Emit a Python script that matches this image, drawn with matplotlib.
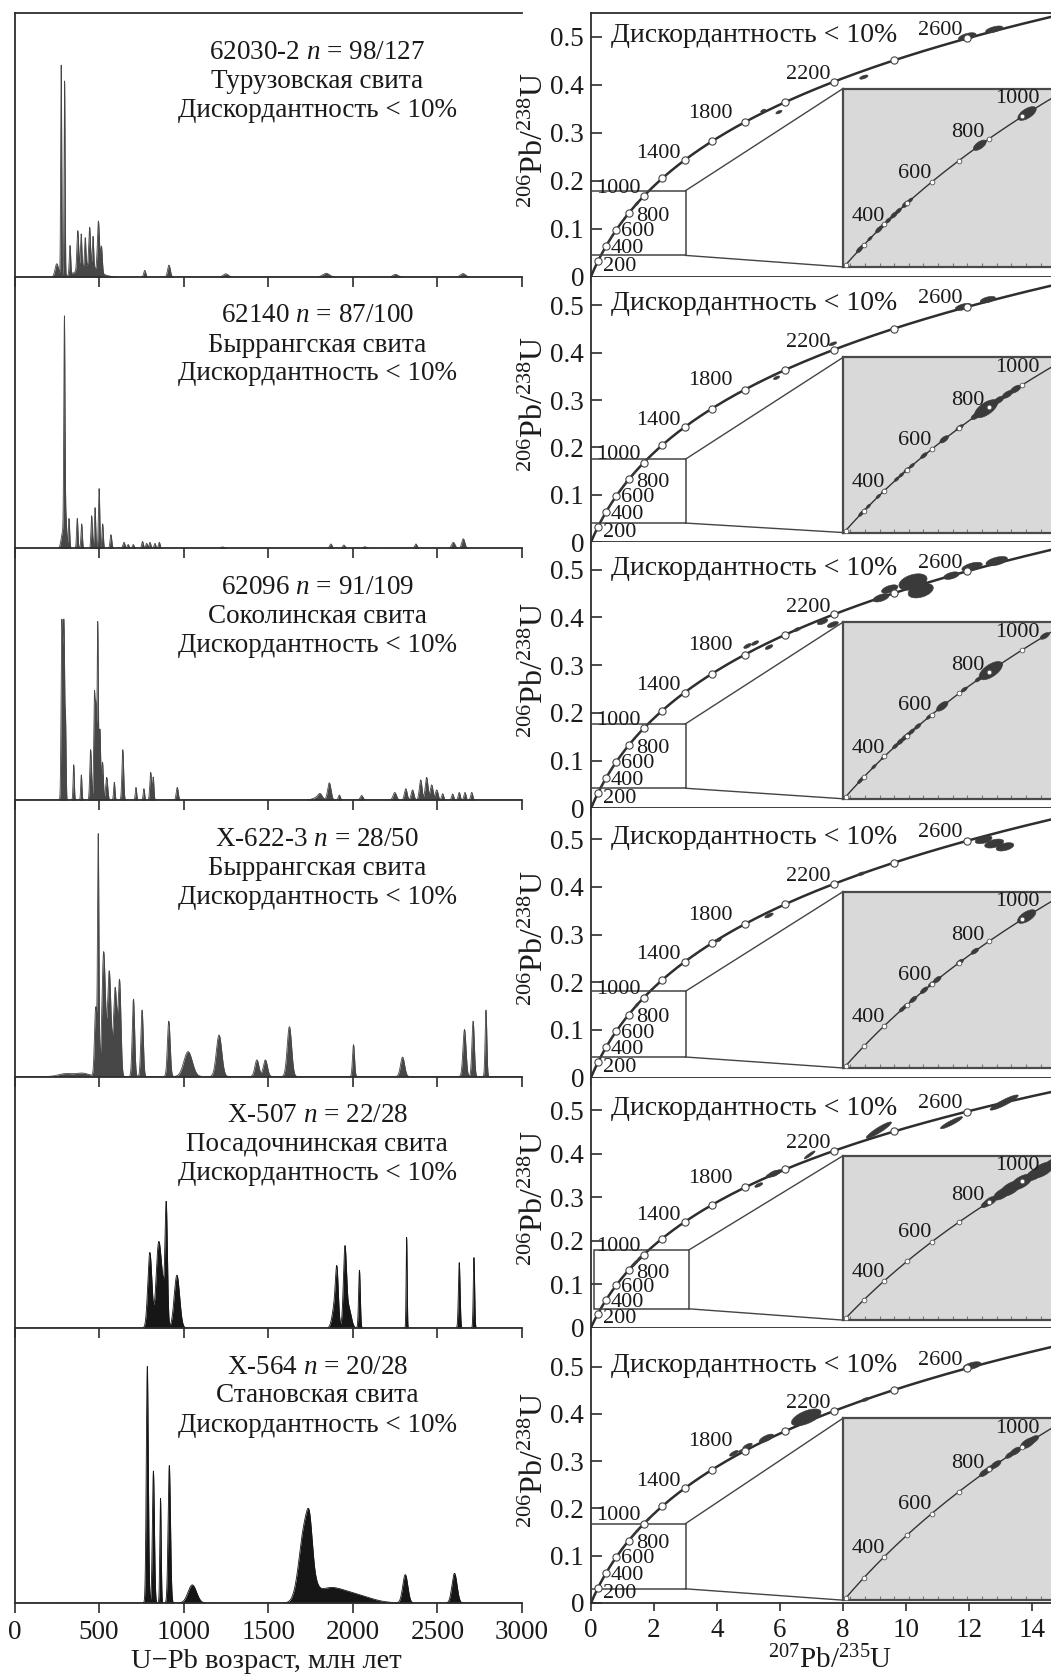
import numpy as np
import matplotlib
matplotlib.use('Agg')
import matplotlib.pyplot as plt
from matplotlib.patches import Polygon, Rectangle

plt.rcParams['font.family'] = ['Liberation Serif', 'DejaVu Serif']
plt.rcParams['mathtext.fontset'] = 'custom'
plt.rcParams['mathtext.rm'] = 'Liberation Serif'
plt.rcParams['mathtext.it'] = 'Liberation Serif:italic'
plt.rcParams['mathtext.bf'] = 'Liberation Serif:bold'

# ------------------------------------------------------------------ data
samples = ['62030-2', '62140', '62096', 'Х-622-3', 'Х-507', 'Х-564']
n_counts = ['98/127', '87/100', '91/109', '28/50', '22/28', '20/28']
suites = ['Турузовская свита', 'Быррангская свита', 'Соколинская свита',
          'Быррангская свита', 'Посадочнинская свита', 'Становская свита']
disc_text = 'Дискордантность < 10%'
age_ticks = [0, 500, 1000, 1500, 2000, 2500, 3000]
rx_ticks = [0, 2, 4, 6, 8, 10, 12, 14]
ry_ticks = [0, 0.1, 0.2, 0.3, 0.4, 0.5]
ry_ticklabels = ['0', '0.1', '0.2', '0.3', '0.4', '0.5']
main_tick_ages = [200, 400, 600, 800, 1000, 1200, 1400, 1600, 1800, 2000, 2200, 2400, 2600, 2800]
main_label_ages = [200, 400, 600, 800, 1000, 1400, 1800, 2200, 2600]
inset_tick_ages = [200, 300, 400, 500, 600, 700, 800, 900, 1000]
inset_label_ages = [400, 600, 800, 1000]

# probability-density peaks (age, Ma; relative height; width, Ma)
pdp1_age = [250, 276, 296, 328, 374, 394, 418, 444, 464, 496, 514, 430, 770, 913, 1249, 1842, 2252, 2651]
pdp1_amp = [0.05, 0.80, 0.74, 0.11, 0.15, 0.13, 0.11, 0.15, 0.12, 0.19, 0.10, 0.04, 0.025, 0.045,
            0.012, 0.014, 0.010, 0.013]
pdp1_sig = [10, 3, 3, 4, 5, 4, 4, 5, 4, 6, 5, 60, 6, 8, 15, 20, 15, 15]

pdp2_age = [285, 295, 305, 322, 371, 397, 456, 476, 500, 521, 570, 647, 672, 702, 757, 781, 801,
            830, 856, 1230, 1870, 1947, 2071, 2373, 2594, 2653]
pdp2_amp = [0.06, 0.82, 0.10, 0.11, 0.11, 0.09, 0.12, 0.15, 0.22, 0.09, 0.05, 0.022, 0.014, 0.014,
            0.025, 0.018, 0.022, 0.018, 0.022, 0.005, 0.016, 0.012, 0.006, 0.016, 0.022, 0.035]
pdp2_sig = [9, 3.5, 4, 4, 4, 4, 4, 4, 4, 4, 5, 6, 5, 5, 5, 5, 5, 5, 5, 10, 7, 7, 8, 7, 10, 9]

pdp3_age = [279, 286, 293, 302, 350, 395, 450, 472, 481, 492, 505, 520, 545, 590, 640, 718, 765,
            805, 820, 962, 1790, 1806, 1861, 1920, 2052, 2248, 2313, 2353, 2401, 2436, 2466, 2496,
            2531, 2590, 2629, 2663, 2703]
pdp3_amp = [0.62, 0.35, 0.62, 0.28, 0.14, 0.10, 0.20, 0.40, 0.35, 0.70, 0.28, 0.15, 0.09, 0.07,
            0.20, 0.05, 0.045, 0.11, 0.09, 0.05, 0.010, 0.018, 0.068, 0.020, 0.018, 0.030, 0.045,
            0.040, 0.080, 0.090, 0.060, 0.040, 0.025, 0.024, 0.030, 0.030, 0.030]
pdp3_sig = [4, 4, 4, 3, 3.5, 3.5, 5, 4, 4, 3.5, 4, 5, 6, 4, 5, 4, 4, 5, 4, 6, 25, 12, 10, 6, 8, 10, 8,
            8, 8, 8, 8, 8, 6, 6, 6, 6, 6]

pdp4_age = [300, 400, 480, 495, 527, 560, 595, 621, 703, 754, 912, 1026, 1209, 1433, 1483, 1625,
            2004, 2294, 2660, 2711, 2787]
pdp4_amp = [0.01, 0.012, 0.25, 0.85, 0.45, 0.38, 0.32, 0.34, 0.28, 0.24, 0.20, 0.09, 0.15, 0.06,
            0.06, 0.18, 0.115, 0.07, 0.17, 0.20, 0.24]
pdp4_sig = [40, 40, 7, 4, 10, 10, 10, 8, 7, 7, 8, 25, 16, 12, 12, 13, 6, 12, 9, 7, 5]

pdp5_age = [800, 850, 875, 897, 960, 1895, 1906, 1953, 1975, 2039, 2318, 2629, 2716]
pdp5_amp = [0.30, 0.30, 0.15, 0.45, 0.21, 0.10, 0.17, 0.30, 0.08, 0.23, 0.36, 0.26, 0.28]
pdp5_sig = [12, 14, 15, 7, 16, 15, 8, 9, 15, 5, 3, 5, 4]

pdp6_age = [785, 821, 863, 915, 1051, 1720, 1745, 1850, 2000, 2310, 2601]
pdp6_amp = [0.86, 0.48, 0.38, 0.50, 0.066, 0.28, 0.09, 0.045, 0.03, 0.103, 0.108]
pdp6_sig = [6, 6, 4, 7, 25, 35, 15, 80, 100, 15, 15]

# concordia grains: apparent 207/235 and 206/238 ages (Ma), half-size along curve (Ma), axis ratio, tilt
main1_t207 = [2600, 2665, 2303, 1971, 1895, 1233, 690]
main1_t206 = [2615, 2680, 2242, 1901, 1915, 1233, 690]
main1_a = [22, 20, 14, 14, 12, 15, 15]
main1_r = [0.35, 0.3, 0.35, 0.4, 0.4, 0.4, 0.4]
main1_rot = [0, 0, 0, 0, 0, 0, 0]
in1_age = [276, 290, 330, 374, 394, 418, 444, 464, 496, 514, 770, 913]
in1_a = [15, 12, 10, 15, 12, 12, 14, 12, 15, 10, 20, 25]

main2_t207 = [2590, 2650, 2194, 1960, 1870, 1947, 1230]
main2_t206 = [2600, 2665, 2255, 1920, 1870, 1947, 1230]
main2_a = [20, 18, 14, 14, 10, 10, 12]
main2_r = [0.35, 0.35, 0.35, 0.4, 0.4, 0.4, 0.4]
main2_rot = [0, 0, 0, 0, 0, 0, 0]
in2_age = [285, 295, 300, 322, 371, 397, 456, 476, 500, 521, 570, 647, 702, 757, 790, 801, 830, 856, 880]
in2_a = [12, 10, 10, 10, 10, 10, 10, 10, 12, 10, 12, 15, 12, 15, 35, 25, 15, 15, 15]

main3_t207 = [2455, 2477, 2386, 2359, 2612, 2671, 2155, 2194, 1814, 1854, 1924, 2052, 2560]
main3_t206 = [2502, 2422, 2437, 2355, 2640, 2690, 2127, 2100, 1887, 1917, 1876, 2052, 2560]
main3_a = [40, 35, 25, 25, 25, 25, 20, 20, 20, 18, 18, 15, 20]
main3_r = [0.5, 0.5, 0.4, 0.4, 0.35, 0.35, 0.4, 0.4, 0.4, 0.4, 0.4, 0.4, 0.4]
main3_rot = [0, 0, 0, 0, 0, 0, 0, 0, 0, 0, 0, 0, 0]
in3_age = [279, 292, 350, 395, 450, 472, 492, 505, 520, 545, 590, 640, 718, 765, 805, 820, 962]
in3_a = [12, 12, 10, 10, 12, 14, 14, 12, 12, 12, 10, 20, 10, 10, 35, 20, 12]

main4_t207 = [2640, 2665, 2690, 1924, 1647, 1625, 2004, 2294, 1433, 1483]
main4_t206 = [2610, 2575, 2545, 1887, 1631, 1625, 2004, 2294, 1433, 1483]
main4_a = [20, 22, 20, 20, 15, 12, 12, 12, 12, 12]
main4_r = [0.4, 0.4, 0.4, 0.35, 0.35, 0.4, 0.4, 0.4, 0.4, 0.4]
main4_rot = [0, 0, 0, 0, 0, 0, 0, 0, 0, 0]
in4_age = [480, 495, 527, 571, 600, 621, 703, 754, 912, 1026]
in4_a = [12, 12, 14, 14, 12, 14, 12, 12, 25, 20]

main5_t207 = [2688, 2560, 2352, 2104, 1948, 1930, 1965, 1873]
main5_t206 = [2688, 2488, 2413, 2155, 1953, 1935, 1970, 1827]
main5_a = [35, 31, 45, 25, 25, 20, 20, 20]
main5_r = [0.18, 0.18, 0.18, 0.2, 0.45, 0.4, 0.4, 0.35]
main5_rot = [14, 13, 15, 15, 0, 0, 0, 0]
in5_age = [790, 803, 840, 865, 897, 935, 955, 985]
in5_a = [15, 20, 25, 30, 30, 25, 30, 25]

main6_t207 = [2612, 2308, 2090, 1911, 1814, 1738, 1780, 1100]
main6_t206 = [2623, 2308, 2136, 1927, 1848, 1774, 1800, 1100]
main6_a = [22, 12, 60, 35, 25, 25, 15, 12]
main6_r = [0.35, 0.4, 0.4, 0.35, 0.35, 0.35, 0.35, 0.4]
main6_rot = [0, 0, 0, 0, 0, 0, 0, 0]
in6_age = [785, 800, 821, 863, 880, 915, 930, 1051]
in6_a = [15, 15, 15, 12, 15, 20, 15, 20]

pdps = [(pdp1_age, pdp1_amp, pdp1_sig), (pdp2_age, pdp2_amp, pdp2_sig), (pdp3_age, pdp3_amp, pdp3_sig),
        (pdp4_age, pdp4_amp, pdp4_sig), (pdp5_age, pdp5_amp, pdp5_sig), (pdp6_age, pdp6_amp, pdp6_sig)]
mains = [(main1_t207, main1_t206, main1_a, main1_r, main1_rot),
         (main2_t207, main2_t206, main2_a, main2_r, main2_rot),
         (main3_t207, main3_t206, main3_a, main3_r, main3_rot),
         (main4_t207, main4_t206, main4_a, main4_r, main4_rot),
         (main5_t207, main5_t206, main5_a, main5_r, main5_rot),
         (main6_t207, main6_t206, main6_a, main6_r, main6_rot)]
insets = [(in1_age, in1_a), (in2_age, in2_a), (in3_age, in3_a),
          (in4_age, in4_a), (in5_age, in5_a), (in6_age, in6_a)]

# ------------------------------------------------------------------ layout / style
W, H, DPI = 1051, 1675, 100
left_rows = [(13.3, 277), (277, 548.3), (548.3, 800), (800, 1076.5), (1076.5, 1328), (1328, 1603)]
right_rows = [(13.3, 276.5), (276.5, 542), (542, 808.3), (808.3, 1077.5), (1077.5, 1327.5), (1327.5, 1603)]
right_ytop = [0.549, 0.561, 0.558, 0.565, 0.575, 0.583]
inset_y0 = [0.02, 0.02, 0.02, 0.02, 0.017, 0.006]
inset_y1 = [0.392, 0.39, 0.39, 0.39, 0.395, 0.391]
rect_y = [(0.044, 0.179), (0.04, 0.175), (0.042, 0.177), (0.043, 0.181), (0.043, 0.178), (0.03, 0.168)]
fills = ['#474747', '#474747', '#474747', '#474747', '#161616', '#161616']
LX0, LX1 = 14.5, 522
RX0, RX1 = 591, 1051
RXMAX = (RX1 - RX0) / 31.5
INX0 = 8.0
INXLIM = (0.20, 1.635)
INYLIM = (0.03, 0.172)
ELL = '#3a3a3a'
LINE = '#2e2e2e'
TXT = '#1a1a1a'
FS_TITLE = 19.5
FS_RTITLE = 20
FS_TICK = 19.5
FS_CONC = 16

L238 = 1.55125e-10
L235 = 9.8485e-10


def cx(t):
    return np.exp(L235 * np.asarray(t, float) * 1e6) - 1


def cy(t):
    return np.exp(L238 * np.asarray(t, float) * 1e6) - 1


fig = plt.figure(figsize=(W / DPI, H / DPI), dpi=DPI)


def px_axes(x0, top, x1, bottom, **kw):
    return fig.add_axes([x0 / W, 1 - bottom / H, (x1 - x0) / W, (bottom - top) / H], **kw)


def draw_ellipse(ax, t207, t206, a, r, rot, zorder=3):
    c = ax.transData.transform((cx(t207), cy(t206)))
    p1 = ax.transData.transform((cx(t207 - a), cy(t207 - a)))
    p2 = ax.transData.transform((cx(t207 + a), cy(t207 + a)))
    v = (p2 - p1) / 2
    half = np.hypot(v[0], v[1])
    ang = np.arctan2(v[1], v[0]) + np.deg2rad(rot)
    th = np.linspace(0, 2 * np.pi, 60)
    ex = half * np.cos(th)
    ey = r * half * np.sin(th)
    X = c[0] + ex * np.cos(ang) - ey * np.sin(ang)
    Y = c[1] + ex * np.sin(ang) + ey * np.cos(ang)
    pts = ax.transData.inverted().transform(np.column_stack([X, Y]))
    ax.add_patch(Polygon(pts, closed=True, fc=ELL, ec=ELL, lw=0.4, zorder=zorder))


grid = np.linspace(0, 3000, 6001)
main_offsets = {200: (22, -5), 400: (21, -3), 600: (21, -2), 800: (24, -3),
                1000: (-25, 8), 1400: (-26, 7), 1800: (-35, 9), 2200: (-26, 7), 2600: (-27, 8)}
inset_offsets = {400: (-16, 8), 600: (-17, 9), 800: (-21, 6), 1000: (-42, -5)}

for i in range(6):
    # ------------------------------------------------ left: age spectrum
    top, bot = left_rows[i]
    ax = px_axes(LX0, top, LX1, bot)
    ages, amps, sigs = pdps[i]
    dens = np.zeros_like(grid)
    for a0, h0, s0 in zip(ages, amps, sigs):
        dens += h0 * np.exp(-0.5 * ((grid - a0) / s0) ** 2)
    ax.fill_between(grid, 0, dens, color=fills[i], lw=0)
    ax.plot(grid, dens, color=fills[i], lw=0.6)
    ax.set_xlim(0, 3000)
    ax.set_ylim(0, 1)
    ax.set_yticks([])
    ax.set_xticks(age_ticks)
    ax.tick_params(axis='x', direction='out', length=7, width=1.2, labelsize=FS_TICK, pad=5,
                   colors=LINE, labelcolor=TXT)
    if i < 5:
        ax.set_xticklabels([])
    ax.spines['right'].set_visible(False)
    if i > 0:
        ax.spines['top'].set_visible(False)
    for s in ('left', 'bottom', 'top'):
        ax.spines[s].set_linewidth(1.3)
        ax.spines[s].set_color(LINE)
    ax.patch.set_alpha(0)
    h = bot - top
    xc = 1790
    tr = ax.get_xaxis_transform()
    ax.text(xc, 1 - 39 / h, samples[i] + ' $n$ = ' + n_counts[i], transform=tr,
            ha='center', va='center', fontsize=FS_TITLE, color=TXT)
    ax.text(xc, 1 - 68 / h, suites[i], transform=tr,
            ha='center', va='center', fontsize=FS_TITLE, color=TXT)
    ax.text(xc, 1 - 97 / h, disc_text, transform=tr,
            ha='center', va='center', fontsize=FS_TITLE, color=TXT)
    if i == 5:
        fig.text(266 / W, 1 - 1662 / H, 'U−Pb возраст, млн лет', ha='center', va='center',
                 fontsize=20.5, color=TXT)

    # ------------------------------------------------ right: concordia
    top, bot = right_rows[i]
    ytop = right_ytop[i]
    ax2 = px_axes(RX0, top, RX1, bot)
    ax2.set_xlim(0, RXMAX)
    ax2.set_ylim(0, ytop)
    scale = (bot - top) / ytop
    t = np.linspace(0, 3200, 3000)
    ax2.plot(cx(t), cy(t), color=LINE, lw=1.8, zorder=2)
    ax2.plot(cx(main_tick_ages), cy(main_tick_ages), 'o', ms=5.2, mfc='white', mec='#444444',
             mew=0.8, zorder=5)
    for ta in main_label_ages:
        ax2.annotate(str(ta), (cx(ta), cy(ta)), xytext=main_offsets[ta], textcoords='offset pixels',
                     ha='center', va='center', fontsize=FS_CONC, color=TXT, zorder=6)
    t207s, t206s, aa, rr, rots = mains[i]
    for k in range(len(t207s)):
        draw_ellipse(ax2, t207s[k], t206s[k], aa[k], rr[k], rots[k])
    in_ages, in_a = insets[i]
    for k in range(len(in_ages)):
        draw_ellipse(ax2, in_ages[k], in_ages[k], in_a[k], 0.4, 0)
    ax2.text(0.65, 0.503, disc_text, ha='left', va='center', fontsize=FS_RTITLE, color=TXT)
    # zoom rectangle and connectors
    ry0, ry1 = rect_y[i]
    rx0 = 0.08 if i == 4 else 0.0
    rx1 = 3.1 if i == 4 else 3.0
    ax2.add_patch(Rectangle((rx0, ry0), rx1 - rx0, ry1 - ry0, fill=False, ec='#444444', lw=1.1,
                            zorder=4))
    ax2.plot([rx1, INX0], [ry1, inset_y1[i]], color='#444444', lw=1.0, zorder=4)
    ax2.plot([rx1, INX0], [ry0, inset_y0[i]], color='#444444', lw=1.0, zorder=4)
    ax2.set_xticks(rx_ticks)
    ax2.set_yticks(ry_ticks)
    ax2.set_yticklabels(ry_ticklabels)
    ax2.tick_params(axis='x', direction='out', length=6, width=1.2, labelsize=FS_TICK, pad=5,
                    colors=LINE, labelcolor=TXT)
    ax2.tick_params(axis='y', direction='in', length=8, width=1.2, labelsize=FS_TICK, pad=5,
                    colors=LINE, labelcolor=TXT)
    if i < 5:
        ax2.set_xticklabels([])
    ax2.spines['right'].set_visible(False)
    if i > 0:
        ax2.spines['top'].set_visible(False)
    for s in ('left', 'bottom', 'top'):
        ax2.spines[s].set_linewidth(1.3)
        ax2.spines[s].set_color(LINE)
    fig.text(535 / W, 1 - ((top + bot) / 2 - 5) / H, r'$^{206}$Pb/$^{238}$U', rotation=90,
             ha='center', va='center', fontsize=23, color=TXT)

    # inset (gray, zoomed 200-1000 Ma)
    in_top = bot - inset_y1[i] * scale
    in_bot = bot - inset_y0[i] * scale
    axi = px_axes(RX0 + INX0 * 31.5, in_top, RX1 + 2, in_bot)
    axi.set_facecolor('#d9d9d9')
    axi.set_xlim(*INXLIM)
    axi.set_ylim(*INYLIM)
    ti = np.linspace(100, 1200, 600)
    axi.plot(cx(ti), cy(ti), color='#333333', lw=1.0, zorder=2)
    axi.plot(cx(inset_tick_ages), cy(inset_tick_ages), 'o', ms=3.4, mfc='white', mec='#555555',
             mew=0.6, zorder=5)
    for k in range(len(in_ages)):
        draw_ellipse(axi, in_ages[k], in_ages[k], in_a[k], 0.45, 0)
    for ta in inset_label_ages:
        axi.annotate(str(ta), (cx(ta), cy(ta)), xytext=inset_offsets[ta], textcoords='offset pixels',
                     ha='center', va='center', fontsize=FS_CONC, color=TXT, zorder=6,
                     annotation_clip=False)
    axi.set_yticks([])
    axi.set_xticks(np.arange(0.25, 1.65, 0.1))
    axi.tick_params(axis='x', direction='in', length=3, width=0.8, colors='#777777',
                    labelbottom=False)
    for s in axi.spines.values():
        s.set_linewidth(1.6)
        s.set_color('#4a4a4a')

fig.text(830 / W, 1 - 1660 / H, r'$^{207}$Pb/$^{235}$U', ha='center', va='center', fontsize=21,
         color=TXT)

fig.savefig('out.png', dpi=DPI)
